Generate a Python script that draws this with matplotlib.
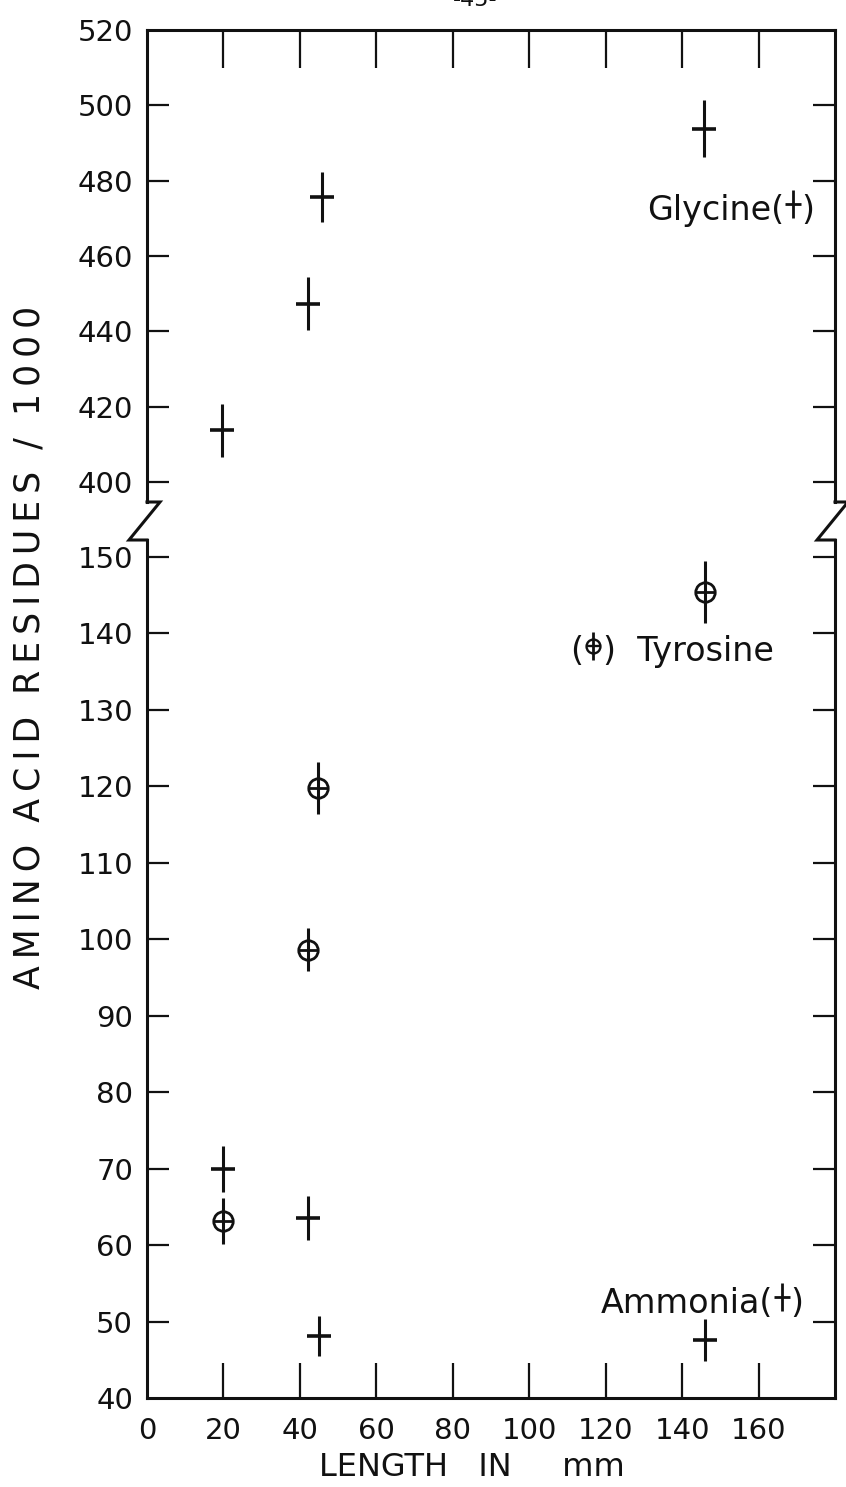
import matplotlib
matplotlib.use("Agg")
import matplotlib.pyplot as plt
from matplotlib.lines import Line2D

# ---- data -------------------------------------------------------------
gly_x = [19.5, 42.2, 45.8, 145.6]
gly_y = [413.7, 447.3, 475.6, 493.8]
gly_err = [7.0, 7.0, 6.6, 7.6]

tyr_x = [19.8, 42.2, 44.8, 146.0]
tyr_y = [63.1, 98.6, 119.8, 145.4]
tyr_err = [3.0, 2.8, 3.4, 4.0]

amm_x = [19.8, 42.2, 45.1, 146.0]
amm_y = [70.0, 63.5, 48.1, 47.6]
amm_err = [3.0, 2.9, 2.6, 2.7]

x_ticks = [0, 20, 40, 60, 80, 100, 120, 140, 160]
x_tick_labels = ["0", "20", "40", "60", "80", "100", "120", "140", "160"]
upper_ticks = [400, 420, 440, 460, 480, 500, 520]
lower_ticks = [40, 50, 60, 70, 80, 90, 100, 110, 120, 130, 140, 150]

# ---- figure -----------------------------------------------------------
W, H, DPI = 846, 1487, 100
fig = plt.figure(figsize=(W / DPI, H / DPI), dpi=DPI)
plt.rcParams["font.family"] = ["DejaVu Sans"]

LW = 2.2          # frame line width (pt)
FS = 21           # tick label size
INK = "#111111"

left = 147 / W
width = (835 - 147) / W
ax_top = fig.add_axes([left, 1 - 502 / H, width, (502 - 30) / H])
ax_bot = fig.add_axes([left, 1 - 1398 / H, width, (1398 - 540) / H])

for ax in (ax_top, ax_bot):
    ax.set_xlim(0, 180)
    for s in ax.spines.values():
        s.set_linewidth(LW)
        s.set_color(INK)
    ax.tick_params(axis="y", which="both", direction="in", length=16,
                   width=1.6, color=INK, labelsize=FS, left=True, right=True,
                   pad=10, labelcolor=INK)

ax_top.set_ylim(394.7, 520)
ax_bot.set_ylim(40, 152.2)

ax_top.spines["bottom"].set_visible(False)
ax_bot.spines["top"].set_visible(False)

# upper panel: ticks along the top edge only
ax_top.set_xticks(x_ticks[1:])
ax_top.tick_params(axis="x", direction="in", length=27, width=1.6, color=INK,
                   top=True, bottom=False, labeltop=False, labelbottom=False)
ax_top.set_yticks(upper_ticks)
ax_top.set_yticklabels([str(v) for v in upper_ticks])

# lower panel: ticks along the bottom edge, labels from 0
ax_bot.set_xticks(x_ticks)
ax_bot.set_xticklabels(x_tick_labels)
ax_bot.tick_params(axis="x", direction="in", length=25, width=1.6, color=INK,
                   labelsize=FS, pad=14, labelcolor=INK)
ax_bot.set_yticks(lower_ticks)
ax_bot.set_yticklabels([str(v) for v in lower_ticks])
# no tick marks in the corners, labels kept
ax_bot.xaxis.get_major_ticks()[0].tick1line.set_visible(False)
ax_bot.yaxis.get_major_ticks()[0].tick1line.set_visible(False)
ax_bot.yaxis.get_major_ticks()[0].tick2line.set_visible(False)
ax_top.yaxis.get_major_ticks()[-1].tick1line.set_visible(False)
ax_top.yaxis.get_major_ticks()[-1].tick2line.set_visible(False)

# ---- data marks -------------------------------------------------------
mk = dict(color=INK, ecolor=INK, elinewidth=2.2, capsize=0, linestyle="none")
ax_top.errorbar(gly_x, gly_y, yerr=gly_err, marker="_", markersize=17,
                markeredgewidth=2.6, **mk)
ax_bot.errorbar(amm_x, amm_y, yerr=amm_err, marker="_", markersize=17,
                markeredgewidth=2.6, **mk)
ax_bot.errorbar(tyr_x, tyr_y, yerr=tyr_err, marker="o", markersize=14,
                markerfacecolor="none", markeredgecolor=INK,
                markeredgewidth=2.0, **mk)
ax_bot.plot(tyr_x, tyr_y, linestyle="none", marker="_", markersize=14,
            markeredgewidth=2.0, color=INK)

# ---- series labels ----------------------------------------------------
LFS = 24


def cross_key(ax, x, y, circle=False):
    ax.plot([x], [y], linestyle="none", marker="|", markersize=20,
            markeredgewidth=2.0, color=INK)
    if circle:
        ax.plot([x], [y], linestyle="none", marker="o", markersize=10,
                markerfacecolor="none", markeredgecolor=INK,
                markeredgewidth=1.7)
        ax.plot([x], [y], linestyle="none", marker="_", markersize=10,
                markeredgewidth=1.7, color=INK)
    else:
        ax.plot([x], [y], linestyle="none", marker="_", markersize=11,
                markeredgewidth=2.0, color=INK)


gx, gy = 169.0, 473.0
ax_top.text(gx - 2.2, gy, "Glycine(", ha="right", va="center_baseline",
            fontsize=LFS, color=INK)
ax_top.text(gx + 2.2, gy, ")", ha="left", va="center_baseline",
            fontsize=LFS, color=INK)
cross_key(ax_top, gx, gy + 0.8)

tx, ty = 116.7, 138.1
ax_bot.text(tx - 2.6, ty, "(", ha="right", va="center_baseline",
            fontsize=LFS, color=INK)
ax_bot.text(tx + 2.6, ty, ")  Tyrosine", ha="left", va="center_baseline",
            fontsize=LFS, color=INK)
cross_key(ax_bot, tx, ty + 0.3, circle=True)

mx, my = 166.1, 52.8
ax_bot.text(mx - 2.2, my, "Ammonia(", ha="right", va="center_baseline",
            fontsize=LFS, color=INK)
ax_bot.text(mx + 2.2, my, ")", ha="left", va="center_baseline",
            fontsize=LFS, color=INK)
cross_key(ax_bot, mx, my + 0.4)

# ---- axis titles ------------------------------------------------------
def spaced(words, gap="  "):
    """Lettering with a thin space between the letters of each word."""
    return gap.join("\u2009".join(w) for w in words)


fig.text(472 / W, 1 - 1468 / H, "LENGTH   IN     mm",
         ha="center", va="center", fontsize=23, color=INK)
fig.text(30 / W, 1 - 647 / H,
         spaced(["AMINO", "ACID", "RESIDUES", "/", "1000"]),
         rotation=90, ha="center", va="center", fontsize=25, color=INK)
fig.text(475 / W, 1.0, "-45-", ha="center", va="center",
         fontsize=16, color=INK)

# ---- axis break zig-zags (left and right edges) -----------------------
p_top = ax_top.get_position()
p_bot = ax_bot.get_position()


def zigzag(xf):
    dx_r = 13 / W
    dx_l = 18 / W
    xs = [xf, xf + dx_r, xf - dx_l, xf]
    ys = [p_top.y0, p_top.y0, p_bot.y1, p_bot.y1]
    fig.add_artist(Line2D(xs, ys, transform=fig.transFigure, color=INK,
                          linewidth=LW, solid_joinstyle="miter"))


zigzag(p_top.x0)
zigzag(p_top.x1)

fig.savefig("out.png", dpi=DPI, facecolor="white")
